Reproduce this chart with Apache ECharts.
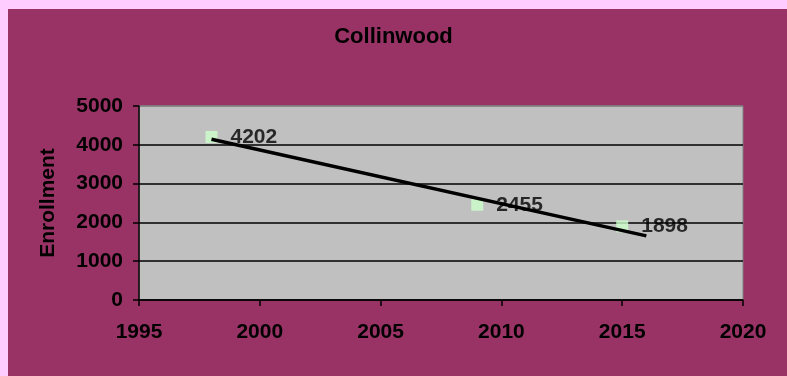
<!DOCTYPE html>
<html>
<head>
<meta charset="utf-8">
<script src="https://cdn.jsdelivr.net/npm/echarts@6/dist/echarts.min.js"></script>
<style>
  html, body { margin: 0; padding: 0; background: #FFCCFF; }
  #frame { position: absolute; left: 8px; top: 9px; right: 0; bottom: 0; background: #993366; }
  #chart { position: absolute; left: 0; top: 0; width: 787px; height: 376px; }
</style>
</head>
<body>
<div id="frame"></div>
<div id="chart"></div>
<script>
// Enrollment counts by year
const years = [1998, 2009, 2015];
const enrollment = [4202, 2455, 1898];

// Linear trend line end points
const trendYears = [1998, 2016];
const trendValues = [4144, 1652];

// Axis ticks
const xTicks = [1995, 2000, 2005, 2010, 2015, 2020];
const yTicks = [0, 1000, 2000, 3000, 4000, 5000];

const font = 'Liberation Sans, Arial, sans-serif';
const chart = echarts.init(document.getElementById('chart'), null, { renderer: 'canvas' });

chart.setOption({
  backgroundColor: 'transparent',
  animation: false,
  title: {
    text: 'Collinwood',
    left: 'center',
    top: 26,
    padding: 0,
    textStyle: { fontFamily: font, fontWeight: 'bold', fontSize: 22, color: '#000' }
  },
  grid: {
    left: 139, right: 44, top: 106, bottom: 76,
    show: true,
    backgroundColor: '#C0C0C0',
    borderColor: '#808080',
    borderWidth: 1
  },
  xAxis: {
    type: 'value',
    min: xTicks[0],
    max: xTicks[xTicks.length - 1],
    interval: 5,
    axisLine: { show: true, onZero: false, lineStyle: { color: '#000', width: 1.5 } },
    axisTick: { show: true, inside: false, length: 6, lineStyle: { color: '#000', width: 1.5 } },
    splitLine: { show: false },
    axisLabel: {
      margin: 22,
      fontFamily: font, fontWeight: 'bold', fontSize: 21, color: '#000',
      formatter: v => String(v)
    }
  },
  yAxis: {
    type: 'value',
    min: yTicks[0],
    max: yTicks[yTicks.length - 1],
    interval: 1000,
    name: 'Enrollment',
    nameLocation: 'middle',
    nameRotate: 90,
    nameGap: 80,
    nameTextStyle: { fontFamily: font, fontWeight: 'bold', fontSize: 21, color: '#000' },
    axisLine: { show: true, lineStyle: { color: '#000', width: 1.5 } },
    axisTick: { show: true, inside: false, length: 6, lineStyle: { color: '#000', width: 1.5 } },
    splitLine: {
      show: true,
      lineStyle: { color: ['#000', '#000', '#000', '#000', '#000', '#808080'], width: 1.5 }
    },
    axisLabel: {
      margin: 16,
      fontFamily: font, fontWeight: 'bold', fontSize: 21, color: '#000',
      formatter: v => String(v)
    }
  },
  series: [
    {
      type: 'scatter',
      symbol: 'rect',
      symbolSize: 12,
      itemStyle: { color: '#CCFFCC' },
      data: years.map((y, i) => [y, enrollment[i]]),
      label: {
        show: true,
        position: 'right',
        distance: 13,
        fontFamily: font, fontWeight: 'bold', fontSize: 21, color: '#000',
        formatter: p => String(p.value[1])
      },
      z: 2
    },
    {
      type: 'line',
      symbol: 'none',
      lineStyle: { color: '#000', width: 3.5 },
      data: trendYears.map((y, i) => [y, trendValues[i]]),
      z: 3
    }
  ]
});
</script>
</body>
</html>
